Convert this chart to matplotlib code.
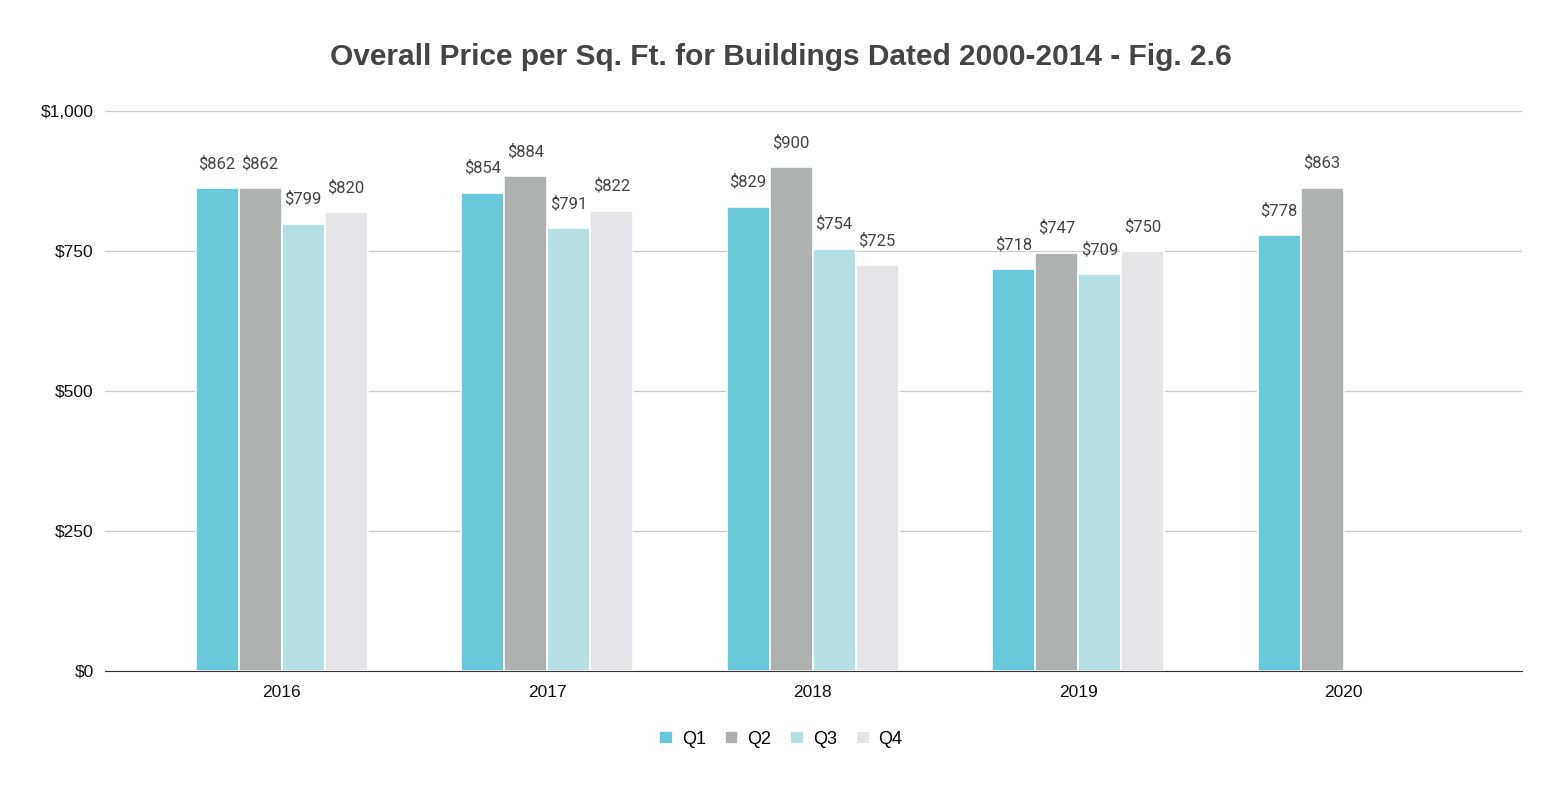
import matplotlib.pyplot as plt
import numpy as np

years = ['2016', '2017', '2018', '2019', '2020']
quarters = ['Q1', 'Q2', 'Q3', 'Q4']
q1 = [862, 854, 829, 718, 778]
q2 = [862, 884, 900, 747, 863]
q3 = [799, 791, 754, 709, None]
q4 = [820, 822, 725, 750, None]
colors = ['#69c9da', '#afb1b0', '#b5dfe2', '#e5e5e7']

fig = plt.figure(figsize=(15.62, 7.88), dpi=100)
ax = fig.add_axes([105/1562, 117/788, 1417/1562, 560/788])

x = np.arange(len(years))
w = 0.162
for i, (name, vals) in enumerate(zip(quarters, [q1, q2, q3, q4])):
    xs = [xx + (i - 1.5) * w for xx, v in zip(x, vals) if v is not None]
    vs = [v for v in vals if v is not None]
    ax.bar(xs, vs, width=w, color=colors[i], edgecolor='white', linewidth=1.2,
           label=name, zorder=3)
    for xx, v in zip(xs, vs):
        ax.text(xx, v + 30, '$%d' % v, ha='center', va='bottom',
                fontsize=12, color='#444444', family='Roboto')

ax.set_xlim(-0.665, 4.672)
ax.set_ylim(0, 1000)
ax.set_yticks([0, 250, 500, 750, 1000])
ax.set_yticklabels(['$0', '$250', '$500', '$750', '$1,000'],
                   family='Liberation Sans', fontsize=12.5, color='#111111')
ax.set_xticks(x)
ax.set_xticklabels(years, family='Liberation Sans', fontsize=12.5, color='#111111')
ax.tick_params(length=0, pad=10)
ax.tick_params(axis='y', pad=8)
ax.grid(axis='y', color='#cccccc', linewidth=0.9, zorder=0)
for s in ['top', 'right', 'left']:
    ax.spines[s].set_visible(False)
ax.spines['bottom'].set_color('#333333')
ax.spines['bottom'].set_zorder(4)

fig.suptitle('Overall Price per Sq. Ft. for Buildings Dated 2000-2014 - Fig. 2.6',
             x=781/1562, y=1 - 57/788, va='center', fontsize=21.5, fontweight='bold',
             color='#444444', family='Liberation Sans')

leg = fig.legend(loc='center', bbox_to_anchor=(781/1562, 1 - 739/788), ncol=4,
                 frameon=False, prop={'family': 'Liberation Sans', 'size': 13},
                 handlelength=0.75, handleheight=0.75, handletextpad=0.5,
                 columnspacing=1.05)

fig.savefig('out.png', dpi=100)
